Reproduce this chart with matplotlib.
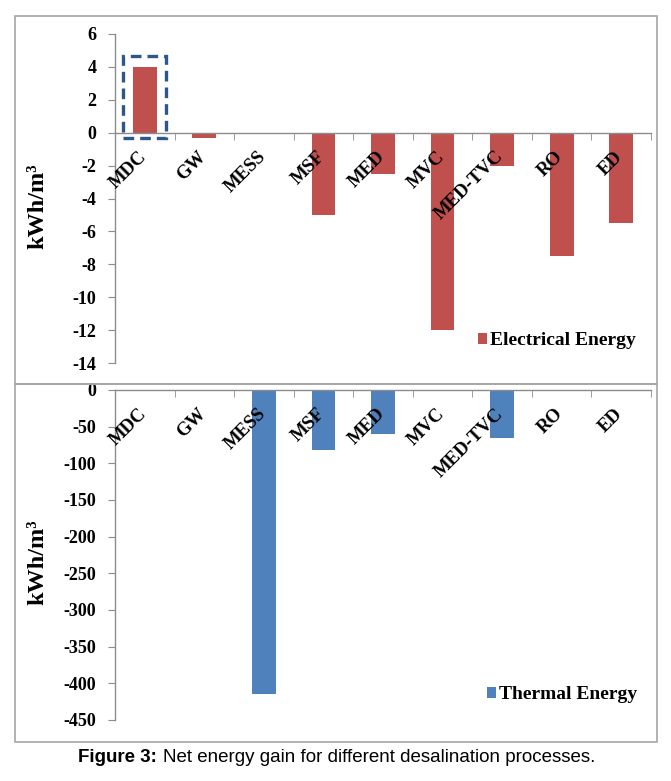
import numpy as np
import matplotlib.pyplot as plt
from matplotlib.patches import Rectangle
from matplotlib.transforms import ScaledTranslation

# datos
procesos = ["MDC", "GW", "MESS", "MSF", "MED", "MVC", "MED-TVC", "RO", "ED"]
energia_electrica = [4, -0.3, 0, -5, -2.5, -12, -2, -7.5, -5.5]
energia_termica = [0, 0, -415, -82, -60, 0, -66, 0, 0]
ticks_electrica = [6, 4, 2, 0, -2, -4, -6, -8, -10, -12, -14]
ticks_termica = [0, -50, -100, -150, -200, -250, -300, -350, -400, -450]

rojo = "#C0504D"
azul = "#4F81BD"
gris = "#A6A6A6"
serif = "Liberation Serif"

fig = plt.figure(figsize=(6.71, 7.81), dpi=100)

# marcos de cada panel
fig.patches.append(Rectangle((15/671, 1-384/781), 642/671, 368/781, transform=fig.transFigure,
                             fill=False, ec=gris, lw=1.2))
fig.patches.append(Rectangle((15/671, 1-742/781), 642/671, 358/781, transform=fig.transFigure,
                             fill=False, ec=gris, lw=1.2))

ax1 = fig.add_axes([115/671, 1-363/781, 536/671, 329/781])
ax2 = fig.add_axes([115/671, 1-720/781, 536/671, 330/781])


def dibujar_panel(ax, valores, color, yticks, etiqueta, leyenda_pos):
    x = np.arange(len(procesos))
    ax.bar(x, valores, width=0.4, color=color, label=etiqueta, zorder=1)
    ax.set_xlim(-0.5, len(procesos) - 0.5)
    ax.set_ylim(min(yticks), max(yticks))
    ax.set_yticks(yticks)
    ax.set_yticklabels([str(t) for t in yticks], fontfamily=serif, fontweight="bold", fontsize=13)
    ax.spines["bottom"].set_position(("data", 0))
    ax.spines["top"].set_visible(False)
    ax.spines["right"].set_visible(False)
    for s in ["left", "bottom"]:
        ax.spines[s].set_color("#8C8C8C")
        ax.spines[s].set_linewidth(1.0)
        ax.spines[s].set_zorder(2)
    ax.set_xticks(x)
    ax.set_xticklabels(procesos, rotation=45, ha="right", va="top", rotation_mode="anchor",
                       fontfamily=serif, fontweight="bold", fontsize=13.5)
    ax.tick_params(axis="x", which="major", length=0, pad=11)
    ax.set_xticks(np.arange(len(procesos) + 1) - 0.5, minor=True)
    ax.tick_params(axis="x", which="minor", length=5, color="#8C8C8C", direction="out")
    ax.tick_params(axis="y", length=5, color="#8C8C8C", pad=8.5)
    ax.xaxis.set_zorder(3)
    desplazar = ScaledTranslation(-5/72, 0, fig.dpi_scale_trans)
    for lab in ax.get_xticklabels():
        lab.set_transform(lab.get_transform() + desplazar)
    ax.set_ylabel("kWh/m³", fontfamily=serif, fontweight="bold", fontsize=17.5)
    ax.yaxis.set_label_coords(-0.125, 0.478)
    ax.legend(loc="center left", bbox_to_anchor=leyenda_pos, frameon=False,
              handlelength=0.45, handleheight=0.45, handletextpad=0.15,
              borderpad=0, borderaxespad=0,
              prop={"family": serif, "weight": "bold", "size": 14})


dibujar_panel(ax1, energia_electrica, rojo, ticks_electrica, "Electrical Energy", (0.677, 0.067))
dibujar_panel(ax2, energia_termica, azul, ticks_termica, "Thermal Energy", (0.694, 0.076))

# recuadro punteado alrededor de MDC
mdc = energia_electrica[0]
ax1.add_patch(Rectangle((-0.37, -0.32), 0.72, mdc + 0.98, fill=False, ec="#2E5688",
                        lw=2.4, ls=(0, (3.2, 1.8)), clip_on=False, zorder=4))

fig.text(78/671, 1-757/781, "Figure 3:", fontfamily="Liberation Sans", fontweight="bold",
         fontsize=13.5, ha="left", va="center")
fig.text(163/671, 1-757/781, "Net energy gain for different desalination processes.",
         fontfamily="Liberation Sans", fontsize=13.5, ha="left", va="center")

fig.savefig("out.png", dpi=100)
